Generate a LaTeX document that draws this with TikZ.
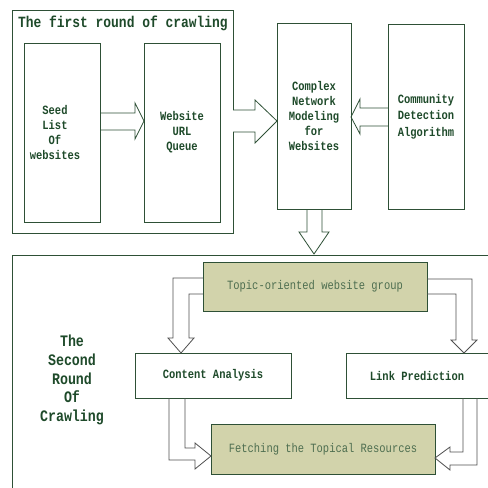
\documentclass[tikz,border=0pt]{standalone}
\usepackage{fontspec}
\newfontfamily\narrowmono[FakeStretch=0.83]{Liberation Mono}
\usetikzlibrary{calc}
\definecolor{dkgreen}{HTML}{1E4A2A}
\definecolor{bordergreen}{HTML}{2E5036}
\definecolor{olivefill}{HTML}{D2D3AB}
\definecolor{olivetext}{HTML}{4E6E50}
\definecolor{arrowgray}{HTML}{505050}
\begin{document}
\begin{tikzpicture}[x=1pt,y=-1pt,
  every node/.style={inner sep=0pt,outer sep=0pt},
  plainbox/.style={draw=bordergreen,line width=0.8pt,fill=white,align=center,
    font=\narrowmono\bfseries\fontsize{12.6}{14.8}\selectfont,text=dkgreen},
  olivebox/.style={draw=bordergreen,line width=0.8pt,fill=olivefill,align=center,
    font=\narrowmono\fontsize{12.6}{14.8}\selectfont,text=olivetext},
  bigtext/.style={font=\narrowmono\bfseries\fontsize{16}{18.7}\selectfont,text=dkgreen,align=center},
  frameline/.style={draw=bordergreen,line width=0.8pt},
  blockarrow/.style={draw=bordergreen,line width=0.8pt,line join=miter},
  grayarrow/.style={draw=arrowgray,line width=0.8pt,line join=miter}]
\useasboundingbox (0,0) rectangle (488,488);
\fill[white] (0,0) rectangle (488,488);

% frames
\draw[frameline] (233,110) -- (233,10) -- (12,10) -- (12,233) -- (233,233) -- (233,132);
\draw[frameline] (12,489) -- (12,255) -- (489,255);

% titles
\node[bigtext,anchor=west,font=\narrowmono\bfseries\fontsize{15.6}{18}\selectfont] (title1) at (18,23) {The first round of crawling};
\node[bigtext] (title2) at (72,380) {The\\Second\\Round\\Of\\Crawling};

% top boxes
\node[plainbox,minimum width=76pt,minimum height=179pt] (seed) at (62,132.5) {};
\node[font=\narrowmono\bfseries\fontsize{12.6}{15}\selectfont,text=dkgreen,align=center] (seedtxt) at (55,132.5) {Seed\\List\\Of\\websites};
\node[plainbox,minimum width=76pt,minimum height=179pt,font=\narrowmono\bfseries\fontsize{12.6}{15}\selectfont] (queue) at (182,132.5) {Website\\URL\\Queue};
\node[plainbox,minimum width=74pt,minimum height=186pt] (complex) at (314,116) {Complex\\Network\\Modeling\\for\\Websites};
\node[plainbox,minimum width=76pt,minimum height=185pt,font=\narrowmono\bfseries\fontsize{12.6}{16.5}\selectfont] (community) at (426,116.5) {Community\\Detection\\Algorithm};

% bottom boxes
\node[olivebox,minimum width=224pt,minimum height=49pt] (topic) at (315,286.5) {Topic-oriented website group};
\node[plainbox,minimum width=156pt,minimum height=45pt] (content) at (213,375.5) {Content Analysis};
\node[plainbox,minimum width=142pt,minimum height=45pt] (link) at (417,375.5) {Link Prediction};
\node[olivebox,minimum width=224pt,minimum height=50pt] (fetch) at (323,449) {Fetching the Topical Resources};

% top block arrows
\draw[blockarrow] (seed.east |- 0,113) -- (135,113) -- (135,103) -- (queue.west |- 0,121) -- (135,139) -- (135,130) -- (seed.east |- 0,130);
\draw[blockarrow] (233,110) -- (255,110) -- (255,100) -- (complex.west |- 0,121) -- (255,143) -- (255,132) -- (233,132);
\draw[blockarrow] (community.west |- 0,108) -- (360,108) -- (360,99) -- (complex.east |- 0,117) -- (360,134) -- (360,126) -- (community.west |- 0,126);
\draw[blockarrow] (307,0 |- complex.south) -- (307,232) -- (299,232) -- (314,254) -- (329,232) -- (322,232) -- (322,0 |- complex.south);

% bottom elbow arrows
\draw[grayarrow] (topic.west |- 0,278) -- (173,278) -- (173,338) -- (168,338) -- (181,0 |- content.north) -- (194,338) -- (189,338) -- (189,294) -- (topic.west |- 0,294);
\draw[grayarrow] (topic.east |- 0,279) -- (472,279) -- (472,340) -- (477,340) -- (464,0 |- link.north) -- (451,340) -- (456,340) -- (456,294) -- (topic.east |- 0,294);
\draw[grayarrow] (169,0 |- content.south) -- (169,460) -- (195,460) -- (195,469) -- (fetch.west |- 0,456) -- (195,443) -- (195,448) -- (185,448) -- (185,0 |- content.south);
\draw[grayarrow] (463,0 |- link.south) -- (463,452) -- (450,452) -- (450,447) -- (fetch.east |- 0,458) -- (450,470) -- (450,465) -- (477,465) -- (477,0 |- link.south);
\end{tikzpicture}
\end{document}
